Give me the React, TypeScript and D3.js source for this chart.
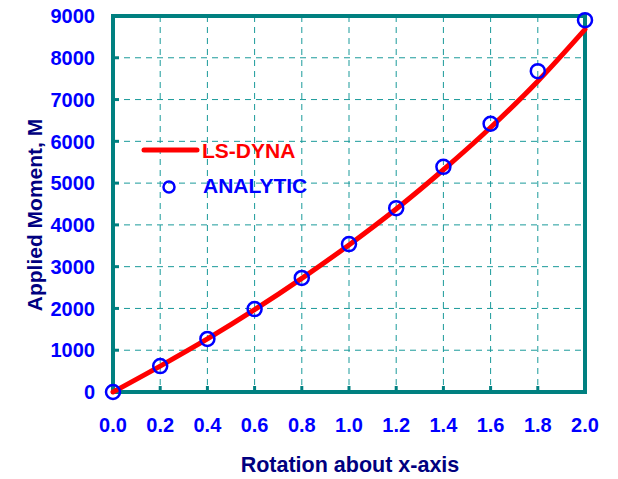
import { useMemo } from "react";
import * as d3 from "d3";

// rotation values shared by both series
const rotation = [0, 0.2, 0.4, 0.6, 0.8, 1.0, 1.2, 1.4, 1.6, 1.8, 2.0];
// LS-DYNA curve
const lsDyna = [0, 620, 1270, 1970, 2720, 3520, 4380, 5320, 6330, 7440, 8680];
// analytic solution (circles)
const analytic = [0, 620, 1270, 1985, 2730, 3540, 4400, 5390, 6420, 7680, 8900];

const xTicks = [0, 0.2, 0.4, 0.6, 0.8, 1.0, 1.2, 1.4, 1.6, 1.8, 2.0];
const yTicks = [0, 1000, 2000, 3000, 4000, 5000, 6000, 7000, 8000, 9000];

const W = 618;
const H = 479;
const margin = { left: 113, right: 33, top: 16, bottom: 87 };

const teal = "#008080";
const blue = "#0000ff";
const navy = "#000080";
const font = "Arial, 'Liberation Sans', sans-serif";

export default function App() {
    const innerW = W - margin.left - margin.right;
    const innerH = H - margin.top - margin.bottom;

    const x = useMemo(() => d3.scaleLinear().domain([0, 2]).range([0, innerW]), [innerW]);
    const y = useMemo(() => d3.scaleLinear().domain([0, 9000]).range([innerH, 0]), [innerH]);

    const line = d3.line<number>()
        .x((_, i) => x(rotation[i]))
        .y(d => y(d))
        .curve(d3.curveMonotoneX);

    const tickStyle = { fill: blue, fontFamily: font, fontWeight: "bold", fontSize: "20px" };
    const titleStyle = { fill: navy, fontFamily: font, fontWeight: "bold", fontSize: "21.5px" };

    return (
        <svg width={W} height={H} style={{ position: "absolute", left: 0, top: 0 }}>
            <g transform={`translate(${margin.left}, ${margin.top})`}>
                {/* grid */}
                {xTicks.slice(1, -1).map(t => (
                    <line key={`gx${t}`} x1={x(t)} x2={x(t)} y1={0} y2={innerH}
                        stroke="#1a9a9a" strokeWidth={1} strokeDasharray="6,5" />
                ))}
                {yTicks.slice(1, -1).map(t => (
                    <line key={`gy${t}`} x1={0} x2={innerW} y1={y(t)} y2={y(t)}
                        stroke="#1a9a9a" strokeWidth={1} strokeDasharray="6,5" />
                ))}

                {/* tick stubs */}
                {xTicks.map(t => (
                    <line key={`tx${t}`} x1={x(t)} x2={x(t)} y1={innerH} y2={innerH - 6}
                        stroke={teal} strokeWidth={3} />
                ))}
                {yTicks.map(t => (
                    <line key={`ty${t}`} x1={0} x2={6} y1={y(t)} y2={y(t)}
                        stroke={teal} strokeWidth={3} />
                ))}

                {/* frame */}
                <rect x={0} y={0} width={innerW} height={innerH} fill="none" stroke={teal} strokeWidth={4} />

                {/* LS-DYNA */}
                <path d={line(lsDyna) || ""} fill="none" stroke="#ff0000" strokeWidth={5} strokeLinecap="round" />

                {/* analytic */}
                {analytic.map((v, i) => (
                    <circle key={i} cx={x(rotation[i])} cy={y(v)} r={7} fill="none" stroke={blue} strokeWidth={2.5} />
                ))}

                {/* tick labels */}
                {xTicks.map(t => (
                    <text key={`lx${t}`} x={x(t)} y={innerH + 40} textAnchor="middle" style={tickStyle}>
                        {d3.format(".1f")(t)}
                    </text>
                ))}
                {yTicks.map(t => (
                    <text key={`ly${t}`} x={-18} y={y(t)} dy="0.36em" textAnchor="end" style={tickStyle}>
                        {t}
                    </text>
                ))}
            </g>

            {/* legend */}
            <line x1={144} x2={197} y1={150} y2={150} stroke="#ff0000" strokeWidth={5} strokeLinecap="round" />
            <text x={202} y={158} style={{ ...titleStyle, fill: "#ff0000", fontSize: "21px" }}>LS-DYNA</text>
            <circle cx={169} cy={187} r={5.5} fill="none" stroke={blue} strokeWidth={2.5} />
            <text x={203} y={193} style={{ ...titleStyle, fill: blue, fontSize: "21px" }}>ANALYTIC</text>

            {/* axis titles */}
            <text x={350} y={472} textAnchor="middle" style={titleStyle}>
                Rotation about x-axis
            </text>
            <text transform="translate(42, 215) rotate(-90)" textAnchor="middle" style={{ ...titleStyle, fontSize: "21px" }}>
                Applied Moment, M
            </text>
        </svg>
    );
}
